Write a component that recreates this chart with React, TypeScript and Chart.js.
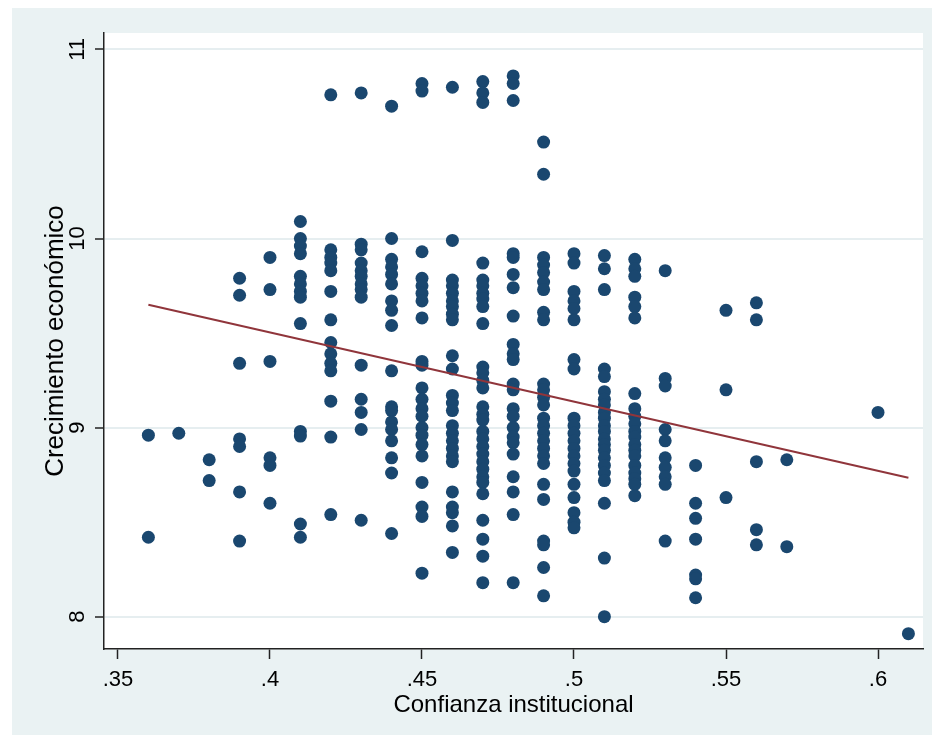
import React, { useEffect, useRef } from "react";
import { Chart, registerables } from "chart.js";

Chart.register(...registerables);

// Confianza institucional (x categories)
const confianza = [0.36, 0.37, 0.38, 0.39, 0.40, 0.41, 0.42, 0.43, 0.44, 0.45, 0.46, 0.47, 0.48, 0.49, 0.50, 0.51, 0.52, 0.53, 0.54, 0.55, 0.56, 0.57, 0.60, 0.61];

// Crecimiento económico values for each x category
const crecimiento: number[][] = [
  [8.96, 8.42],
  [8.97],
  [8.83, 8.72],
  [9.79, 9.70, 9.34, 8.94, 8.90, 8.66, 8.40],
  [9.90, 9.73, 9.35, 8.84, 8.80, 8.60],
  [10.09, 10.00, 9.96, 9.92, 9.80, 9.76, 9.72, 9.69, 9.55, 8.98, 8.955, 8.49, 8.42],
  [10.76, 9.94, 9.90, 9.87, 9.83, 9.72, 9.57, 9.45, 9.39, 9.34, 9.30, 9.14, 8.95, 8.54],
  [10.77, 9.97, 9.94, 9.87, 9.83, 9.80, 9.76, 9.73, 9.69, 9.33, 9.15, 9.08, 8.99, 8.51],
  [10.70, 10.00, 9.89, 9.85, 9.81, 9.76, 9.67, 9.62, 9.54, 9.30, 9.11, 9.09, 9.03, 8.99, 8.93, 8.84, 8.76, 8.44],
  [10.82, 10.78, 9.93, 9.79, 9.75, 9.71, 9.67, 9.58, 9.35, 9.33, 9.21, 9.15, 9.10, 9.06, 9.00, 8.96, 8.91, 8.85, 8.71, 8.58, 8.53, 8.23],
  [10.80, 9.99, 9.78, 9.75, 9.71, 9.67, 9.64, 9.60, 9.57, 9.38, 9.31, 9.17, 9.13, 9.09, 9.01, 8.97, 8.93, 8.89, 8.85, 8.82, 8.66, 8.58, 8.55, 8.48, 8.34],
  [10.83, 10.77, 10.72, 9.87, 9.78, 9.75, 9.71, 9.68, 9.64, 9.55, 9.32, 9.29, 9.25, 9.21, 9.11, 9.07, 9.04, 8.98, 8.94, 8.90, 8.86, 8.82, 8.78, 8.74, 8.71, 8.65, 8.51, 8.41, 8.32, 8.18],
  [10.86, 10.82, 10.73, 9.92, 9.90, 9.81, 9.74, 9.59, 9.44, 9.39, 9.36, 9.23, 9.20, 9.10, 9.06, 9.00, 8.95, 8.92, 8.86, 8.74, 8.66, 8.54, 8.18],
  [10.51, 10.34, 9.90, 9.86, 9.82, 9.77, 9.73, 9.61, 9.57, 9.23, 9.20, 9.16, 9.12, 9.05, 9.01, 8.97, 8.93, 8.89, 8.85, 8.81, 8.70, 8.62, 8.40, 8.38, 8.26, 8.11],
  [9.92, 9.87, 9.72, 9.67, 9.63, 9.57, 9.36, 9.31, 9.05, 9.01, 8.97, 8.93, 8.89, 8.85, 8.81, 8.77, 8.70, 8.63, 8.55, 8.50, 8.47],
  [9.91, 9.84, 9.73, 9.31, 9.27, 9.19, 9.15, 9.12, 9.08, 9.05, 9.01, 8.98, 8.94, 8.91, 8.88, 8.84, 8.80, 8.76, 8.72, 8.60, 8.31, 8.00],
  [9.89, 9.84, 9.80, 9.69, 9.64, 9.58, 9.18, 9.10, 9.06, 9.02, 8.98, 8.95, 8.91, 8.88, 8.85, 8.80, 8.76, 8.73, 8.70, 8.64],
  [9.83, 9.26, 9.22, 8.99, 8.93, 8.84, 8.79, 8.74, 8.70, 8.40],
  [8.80, 8.60, 8.52, 8.41, 8.22, 8.20, 8.10],
  [9.62, 9.20, 8.63],
  [9.66, 9.57, 8.82, 8.46, 8.38],
  [8.83, 8.37],
  [9.08],
  [7.91],
];

// Fitted line endpoints
const fitX = [0.36, 0.61];
const fitY = [9.65, 8.735];

// Ticks
const xTicks = [0.35, 0.4, 0.45, 0.5, 0.55, 0.6];
const xTickLabels = [".35", ".4", ".45", ".5", ".55", ".6"];
const yTicks = [8, 9, 10, 11];
const yTickLabels = ["8", "9", "10", "11"];

const FONT = '"Liberation Sans", Arial, sans-serif';

export default function App() {
  const ref = useRef<HTMLCanvasElement | null>(null);

  useEffect(() => {
    if (!ref.current) return;
    const points: { x: number; y: number }[] = [];
    confianza.forEach((cx, i) => {
      crecimiento[i].forEach((v) => points.push({ x: cx, y: v }));
    });
    const fitData = fitX.map((x, i) => ({ x, y: fitY[i] }));

    const plotBg = {
      id: "plotBg",
      beforeDraw(chart: any) {
        const { ctx, chartArea } = chart;
        ctx.save();
        ctx.fillStyle = "#ffffff";
        ctx.fillRect(chartArea.left, chartArea.top, chartArea.right - chartArea.left, chartArea.bottom - chartArea.top);
        ctx.restore();
      },
    };

    const yLabels = {
      id: "yLabels",
      afterDraw(chart: any) {
        const { ctx } = chart;
        const ys = chart.scales.y;
        ctx.save();
        ctx.font = `22px ${FONT}`;
        ctx.fillStyle = "#000000";
        ctx.textAlign = "center";
        ctx.textBaseline = "alphabetic";
        yTicks.forEach((v, i) => {
          const py = ys.getPixelForValue(v);
          ctx.save();
          ctx.translate(72, py);
          ctx.rotate(-Math.PI / 2);
          ctx.fillText(yTickLabels[i], 0, 0);
          ctx.restore();
        });
        ctx.restore();
      },
    };

    const chart = new Chart(ref.current, {
      type: "scatter",
      data: {
        datasets: [
          {
            type: "line",
            data: fitData,
            borderColor: "#90353b",
            borderWidth: 2,
            pointRadius: 0,
            fill: false,
            order: 0,
          } as any,
          {
            type: "scatter",
            data: points,
            backgroundColor: "#1a476f",
            borderWidth: 0,
            pointRadius: 6.5,
            pointHoverRadius: 6.5,
            order: 1,
          },
        ],
      },
      options: {
        animation: false,
        responsive: false,
        devicePixelRatio: 1,
        layout: { padding: { left: 0, top: 25, right: 9, bottom: 0 } },
        plugins: { legend: { display: false }, tooltip: { enabled: false } },
        scales: {
          x: {
            type: "linear",
            min: 0.3454,
            max: 0.6148,
            afterFit(scale: any) {
              scale.height = 86;
            },
            afterBuildTicks(scale: any) {
              scale.ticks = xTicks.map((v) => ({ value: v }));
            },
            ticks: {
              font: { family: FONT, size: 22 },
              color: "#000000",
              padding: 8,
              maxRotation: 0,
              minRotation: 0,
              callback: (v: any) => {
                const i = xTicks.findIndex((t) => Math.abs(t - Number(v)) < 1e-6);
                return i >= 0 ? xTickLabels[i] : "";
              },
            },
            grid: {
              drawOnChartArea: false,
              drawTicks: true,
              tickLength: 10,
              tickColor: "#222222",
              tickWidth: 1.5,
            },
            border: { display: true, color: "#222222", width: 1.5 },
            title: {
              display: true,
              text: "Confianza institucional",
              color: "#000000",
              font: { family: FONT, size: 24 },
              padding: { top: 0, bottom: 15 },
            },
          },
          y: {
            type: "linear",
            min: 7.829,
            max: 11.087,
            afterFit(scale: any) {
              scale.width = 92;
            },
            afterBuildTicks(scale: any) {
              scale.ticks = yTicks.map((v) => ({ value: v }));
            },
            ticks: { display: false },
            grid: {
              drawOnChartArea: true,
              color: "#e6eef0",
              lineWidth: 2,
              drawTicks: true,
              tickLength: 9,
              tickColor: "#222222",
              tickWidth: 1.5,
            },
            border: { display: true, color: "#222222", width: 1.5 },
            title: {
              display: true,
              text: "Crecimiento económico",
              color: "#000000",
              font: { family: FONT, size: 26 },
              padding: { top: 28, bottom: 0 },
            },
          },
        },
      },
      plugins: [plotBg, yLabels],
    });
    return () => chart.destroy();
  }, []);

  return (
    <div style={{ width: 920, height: 727, marginLeft: 4, background: "#eaf2f3" }}>
      <canvas ref={ref} width={920} height={727} style={{ display: "block" }} />
    </div>
  );
}
